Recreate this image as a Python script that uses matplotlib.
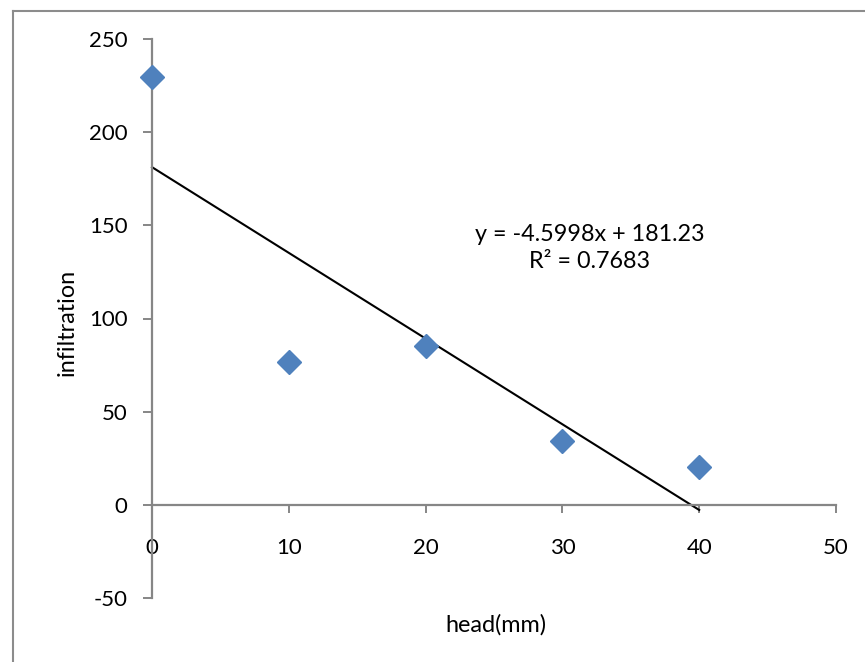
import matplotlib
matplotlib.use("Agg")
import matplotlib.pyplot as plt
from matplotlib.lines import Line2D
import numpy as np

# data
head_mm = [0, 10, 20, 30, 40]
infiltration = [229.5, 76.5, 85.5, 34.3, 20.4]
trend_slope = -4.5998
trend_intercept = 181.23
r_squared = 0.7683
x_ticks = [0, 10, 20, 30, 40, 50]
y_ticks = [-50, 0, 50, 100, 150, 200, 250]

plt.rcParams['font.family'] = ['Lato', 'DejaVu Sans']

W, H = 865, 662
FS = 16
FS_TXT = 16.8
fig = plt.figure(figsize=(W / 100, H / 100), dpi=100)
ax = fig.add_axes([152 / W, 1 - 598 / H, (836 - 152) / W, (598 - 39) / H])

axis_gray = '#868686'
ax.set_xlim(0, 50)
ax.set_ylim(-50, 250)
for s in ['top', 'right']:
    ax.spines[s].set_visible(False)
ax.spines['left'].set_position(('data', 0))
ax.spines['bottom'].set_position(('data', 0))
for s in ['left', 'bottom']:
    ax.spines[s].set_color(axis_gray)
    ax.spines[s].set_linewidth(1.6)

ax.set_xticks(x_ticks)
ax.set_yticks(y_ticks)
ax.set_xticklabels([str(v) for v in x_ticks])
ax.set_yticklabels([str(v) for v in y_ticks])
ax.tick_params(axis='y', direction='out', length=6.5, width=1.4, color=axis_gray,
               labelsize=FS, pad=11)
ax.tick_params(axis='x', direction='out', length=6, width=1.4, color=axis_gray,
               labelsize=FS, pad=18)

# trendline
xs = np.array([head_mm[0], head_mm[-1]], dtype=float)
ax.plot(xs, trend_slope * xs + trend_intercept, color='black', lw=1.5, zorder=2,
        clip_on=False)

# points
ax.plot(head_mm, infiltration, linestyle='none', marker='D', markersize=12.5,
        color='#4F81BD', markeredgecolor='#4F81BD', zorder=3, clip_on=False)

ax.text(32.0, 145, f"y = {trend_slope}x + {trend_intercept}", ha='center',
        va='center', fontsize=FS_TXT)
ax.text(32.0, 130.5, f"R² = {r_squared}", ha='center', va='center', fontsize=FS_TXT)

fig.text(496 / W, 1 - 625 / H, "head(mm)", ha='center', va='center', fontsize=FS_TXT)
fig.text(67 / W, 1 - 322 / H, "infiltration", ha='center', va='center',
         rotation=90, fontsize=FS_TXT)

# outer frame (top and left edges visible)
fig.add_artist(Line2D([12.5 / W, 1.0], [1 - 10.5 / H, 1 - 10.5 / H],
                      transform=fig.transFigure, color='#8c8c8c', lw=1.5))
fig.add_artist(Line2D([12.5 / W, 12.5 / W], [0, 1 - 10.5 / H],
                      transform=fig.transFigure, color='#8c8c8c', lw=1.5))

fig.savefig("out.png", dpi=100)
